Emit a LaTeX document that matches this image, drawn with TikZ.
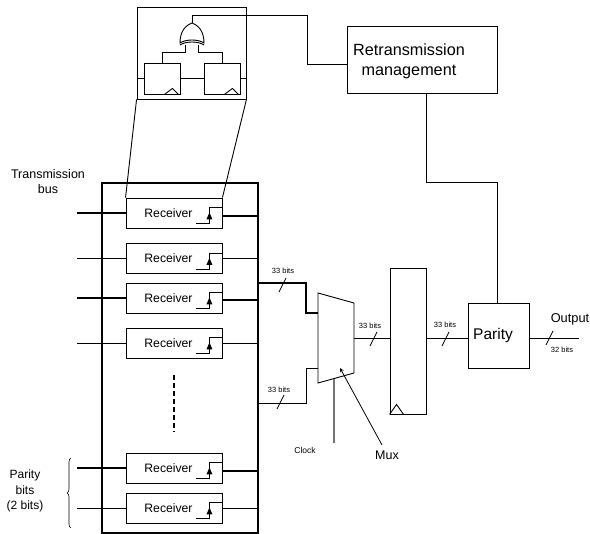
\documentclass[tikz,border=0pt]{standalone}
\usepackage{fontspec}
\setmainfont{Liberation Sans}
\usetikzlibrary{decorations.pathreplacing}
\begin{document}
\begin{tikzpicture}[
    x=1pt,
    y=-1pt,
    line width=0.9pt,
    >=stealth,
    bloque/.style={
        draw,
        inner sep=0pt
    },
    receptor/.style={
        bloque,
        minimum width=96pt,
        minimum height=30pt,
        font=\fontsize{12.2}{14}\selectfont,
        text depth=0pt
    },
    flipflop/.style={
        bloque,
        minimum width=36pt,
        minimum height=31pt
    },
    bus/.style={line width=2pt},
    rotulo/.style={inner sep=0pt,align=center,font=\fontsize{12.3}{15}\selectfont},
    bitsrot/.style={inner sep=0pt,font=\fontsize{7.5}{9}\selectfont}
]
    \useasboundingbox (0,0) rectangle (590,534);

    % zoomed view
    \node[bloque,minimum width=109pt,minimum height=92pt] (zoombox) at (191.5,53) {};
    \node[flipflop] (ffa) at (162,78.5) {};
    \node[flipflop] (ffb) at (222,78.5) {};
    \foreach \ff in {ffa,ffb}
        \draw (\ff.south east) ++(-16,0) -- ++(8,-6) -- ++(6,6);
    \draw (zoombox.west |- ffa) -- (ffa.west);
    \draw (ffa.east) -- (ffb.west);
    \draw (ffb.east) -- (zoombox.east |- ffb);

    % gate
    \coordinate (gatetop) at (192,23);
    \coordinate (gatea) at (185,45);
    \coordinate (gateb) at (198,45);
    \draw (180,43) .. controls (180,33) and (184,26) .. (gatetop)
        .. controls (200,26) and (204,33) .. (204,43)
        .. controls (198,39) and (186,39) .. (180,43) -- cycle;
    \draw (180,45) .. controls (186,41) and (198,41) .. (204,45);
    \draw (gatea) -- ++(0,7) -| (ffa.north);
    \draw (gateb) -- ++(0,7) -| (ffb.north);

    % receiver array
    \node[bloque,line width=1.5pt,minimum width=156pt,minimum height=350pt] (array) at (180,358) {};
    \node[receptor] (rec1) at (174,213) {Receiver\kern11pt};
    \node[receptor] (rec2) at (174,258.5) {Receiver\kern11pt};
    \node[receptor] (rec3) at (174,298) {Receiver\kern11pt};
    \node[receptor] (rec4) at (174,343) {Receiver\kern11pt};
    \node[receptor] (rec5) at (174,468) {Receiver\kern11pt};
    \node[receptor] (rec6) at (174,508) {Receiver\kern11pt};
    \foreach \r in {rec1,rec2,rec3,rec4,rec5,rec6} {
        \draw (\r.north east) ++(0,10) -- ++(-13,0) -- ++(0,16) -- ++(-13,0);
        \fill (\r.south east) ++(-13,-9) -- ++(-3,0) -- ++(3,-7) -- ++(3,7) -- cycle;
    }
    \draw (zoombox.south west) -- (rec1.north west);
    \draw (zoombox.south east) -- (rec1.north east);

    % inputs
    \coordinate (ent1) at (77,213);
    \coordinate (ent2) at (77,258);
    \coordinate (ent3) at (77,298);
    \coordinate (ent4) at (77,343);
    \coordinate (ent5) at (77,468);
    \coordinate (ent6) at (77,508);
    \draw[bus] (ent1) -- (rec1.west);
    \draw (ent2) -- (rec2.west |- ent2);
    \draw[bus] (ent3) -- (rec3.west);
    \draw (ent4) -- (rec4.west);
    \draw[bus] (ent5) -- (rec5.west);
    \draw (ent6) -- (rec6.west);

    % outputs
    \draw[bus] (rec1.east |- 0,216) -- (array.east |- 0,216);
    \draw (rec2.east |- ent2) -- (array.east |- ent2);
    \draw[bus] (rec3.east |- 0,300) -- (array.east |- 0,300);
    \draw (rec4.east |- ent4) -- (array.east |- ent4);
    \draw[bus] (rec5.east |- 0,471) -- (array.east |- 0,471);
    \draw (rec6.east |- ent6) -- (array.east |- ent6);

    \draw[line width=1.4pt,dash pattern=on 5pt off 3pt] (174,375) -- (174,432);

    % mux
    \coordinate (muxa) at (318,313);
    \coordinate (muxb) at (318,368);
    \draw (318,293) -- (354,303) -- (354,373) -- (318,383) -- cycle;
    \coordinate (muxout) at (354,338);
    \coordinate (muxclk) at (334,379);
    \coordinate (muxtip) at (340,368);
    \coordinate (clkend) at (334,443);
    \coordinate (busa) at (258,283);
    \coordinate (busb) at (258,403);
    \draw[bus] (busa) -- (306,283) -- (306,313) -- (muxa);
    \draw (busb) -- (306,403) -- (306,368) -- (muxb);
    \draw[black!55,line width=1.2pt] (muxclk) -- (clkend);
    \node[bitsrot,font=\fontsize{8.5}{10}\selectfont] (clock) at (305,450) {Clock};
    \node[rotulo,font=\fontsize{12.5}{15}\selectfont] (mux) at (387,455) {Mux};
    \coordinate (muxarrow) at (382,445);
    \draw[->,line width=0.8pt] (muxarrow) -- (muxtip);

    % register
    \node[bloque,minimum width=36pt,minimum height=146pt] (reg) at (408,341) {};
    \draw (reg.south west) -- ++(7,-10) -- ++(7,10);
    \draw (muxout) -- (reg.west |- muxout);

    % parity and management
    \node[bloque,minimum width=61pt,minimum height=65pt,font=\fontsize{15.5}{18}\selectfont] (parity) at (498.5,335.5) {Parity\kern11pt};
    \node[bloque,minimum width=150pt,minimum height=67pt] (retrans) at (422,59.5) {};
    \node[rotulo,font=\fontsize{16.2}{20.5}\selectfont] (retranstxt) at (409,61.5) {Retransmission\\management};
    \coordinate (salida) at (579,338);
    \draw (reg.east |- muxout) -- (parity.west |- muxout);
    \draw (parity.east |- salida) -- (salida);
    \draw (retrans.south -| 426,0) -- (426,182) -| (parity.north -| 497,0);
    \draw (gatetop) -- (192,15) -| (307,64) -- (retrans.west |- 0,64);

    % bit marks
    \foreach \x/\y in {279/292,277/409,370/346,442/346,546/345}
        \draw[line width=0.7pt] (\x,\y) -- ++(7,-14);
    \node[bitsrot] (bitsa) at (283,271) {33 bits};
    \node[bitsrot] (bitsb) at (279,390) {33 bits};
    \node[bitsrot] (bitsc) at (370,326) {33 bits};
    \node[bitsrot] (bitsd) at (445,325) {33 bits};
    \node[bitsrot] (bitse) at (562,350) {32 bits};
    \node[rotulo,font=\fontsize{12.8}{15}\selectfont] (output) at (570,319) {Output};

    % left labels
    \node[rotulo,font=\fontsize{12.5}{15.5}\selectfont] (transbus) at (48,181.5) {Transmission\\bus};
    \node[rotulo,font=\fontsize{12}{15.5}\selectfont] (parbits) at (25,491) {Parity\\bits\\(2 bits)};
    \draw[line width=0.6pt,decorate,decoration={brace,amplitude=4pt}] (71,528) -- (71,458);
\end{tikzpicture}
\end{document}
